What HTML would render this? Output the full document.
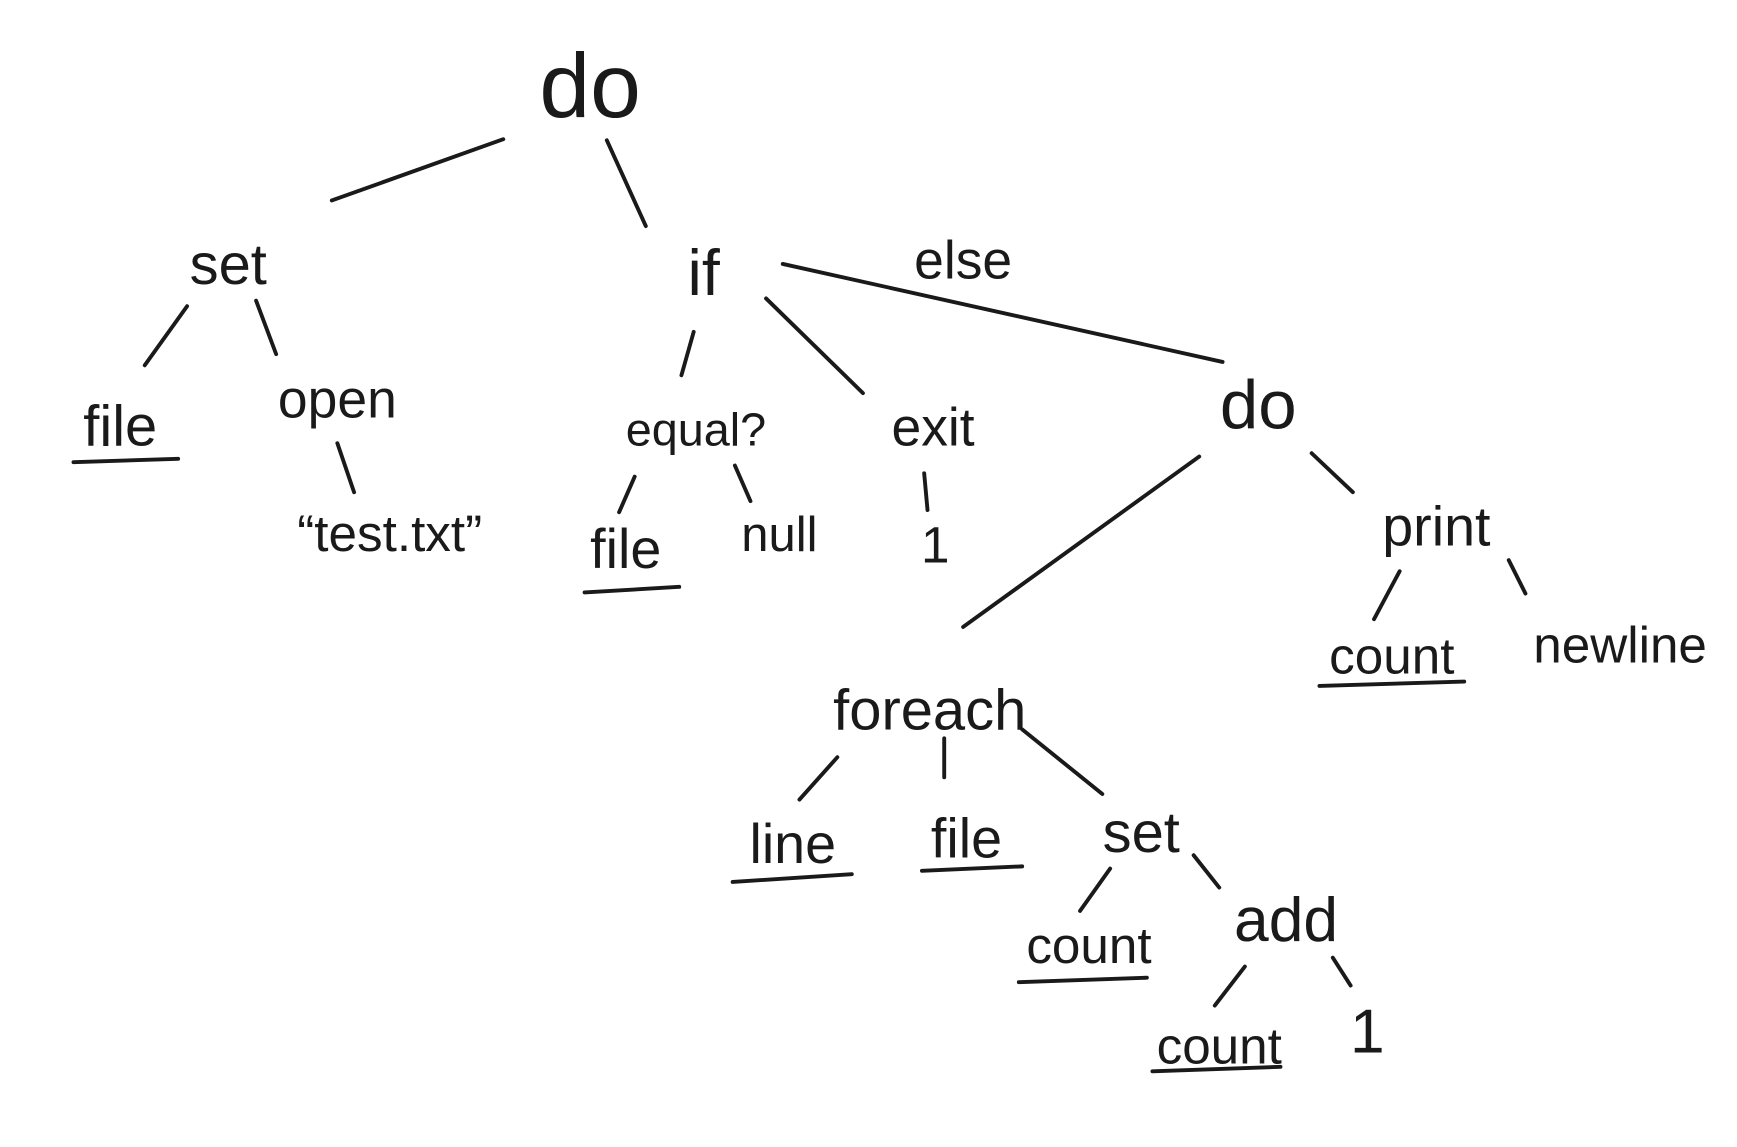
<!DOCTYPE html>
<html><head><meta charset="utf-8"><style>
html,body{margin:0;padding:0;background:#fff;}
svg{display:block;}
text{font-family:"Liberation Sans",sans-serif;fill:#1a1a1a;text-anchor:middle;}
line{stroke:#1a1a1a;stroke-width:3.5;stroke-linecap:round;}
</style></head><body>
<svg width="1737" height="1147" viewBox="0 0 1560 1030" preserveAspectRatio="none">
<g>
<line x1="298" y1="180" x2="452" y2="125"/>
<line x1="545" y1="126" x2="580" y2="203"/>
<line x1="168" y1="275" x2="130" y2="328"/>
<line x1="230" y1="270" x2="248" y2="318"/>
<line x1="303" y1="398" x2="318" y2="442"/>
<line x1="623" y1="298" x2="612" y2="337"/>
<line x1="688" y1="268" x2="775" y2="353"/>
<line x1="703" y1="237" x2="1098" y2="325"/>
<line x1="570" y1="428" x2="556" y2="460"/>
<line x1="660" y1="418" x2="674" y2="450"/>
<line x1="830" y1="425" x2="833" y2="458"/>
<line x1="1077" y1="410" x2="865" y2="563"/>
<line x1="1178" y1="407" x2="1215" y2="442"/>
<line x1="1257" y1="513" x2="1234" y2="556"/>
<line x1="1355" y1="503" x2="1370" y2="533"/>
<line x1="752" y1="680" x2="718" y2="718"/>
<line x1="848" y1="663" x2="848" y2="698"/>
<line x1="918" y1="655" x2="990" y2="713"/>
<line x1="997" y1="780" x2="970" y2="818"/>
<line x1="1072" y1="768" x2="1095" y2="797"/>
<line x1="1118" y1="868" x2="1091" y2="903"/>
<line x1="1197" y1="860" x2="1213" y2="885"/>
<!-- underlines -->
<line x1="66" y1="415" x2="160" y2="412"/>
<line x1="525" y1="532" x2="610" y2="527"/>
<line x1="1185" y1="616" x2="1315" y2="612"/>
<line x1="658" y1="792" x2="765" y2="785"/>
<line x1="828" y1="782" x2="918" y2="778"/>
<line x1="915" y1="882" x2="1030" y2="878"/>
<line x1="1035" y1="962" x2="1150" y2="958"/>
</g>
<text x="530" y="105" font-size="82">do</text>
<text x="205" y="255" font-size="52">set</text>
<text x="632" y="265" font-size="58">if</text>
<text x="865" y="250" font-size="48">else</text>
<text x="108" y="400" font-size="52">file</text>
<text x="303" y="375" font-size="48">open</text>
<text x="350" y="495" font-size="46">“test.txt”</text>
<text x="625" y="400" font-size="42">equal?</text>
<text x="838" y="400" font-size="48">exit</text>
<text x="1130" y="385" font-size="62">do</text>
<text x="562" y="510" font-size="50">file</text>
<text x="700" y="495" font-size="44">null</text>
<text x="840" y="505" font-size="46">1</text>
<text x="1290" y="490" font-size="50">print</text>
<text x="1250" y="605" font-size="46">count</text>
<text x="1455" y="595" font-size="46">newline</text>
<text x="835" y="655" font-size="52">foreach</text>
<text x="712" y="775" font-size="50">line</text>
<text x="868" y="770" font-size="50">file</text>
<text x="1025" y="765" font-size="52">set</text>
<text x="978" y="865" font-size="46">count</text>
<text x="1155" y="845" font-size="56">add</text>
<text x="1095" y="955" font-size="46">count</text>
<text x="1228" y="945" font-size="56">1</text>
</svg>
</body></html>
